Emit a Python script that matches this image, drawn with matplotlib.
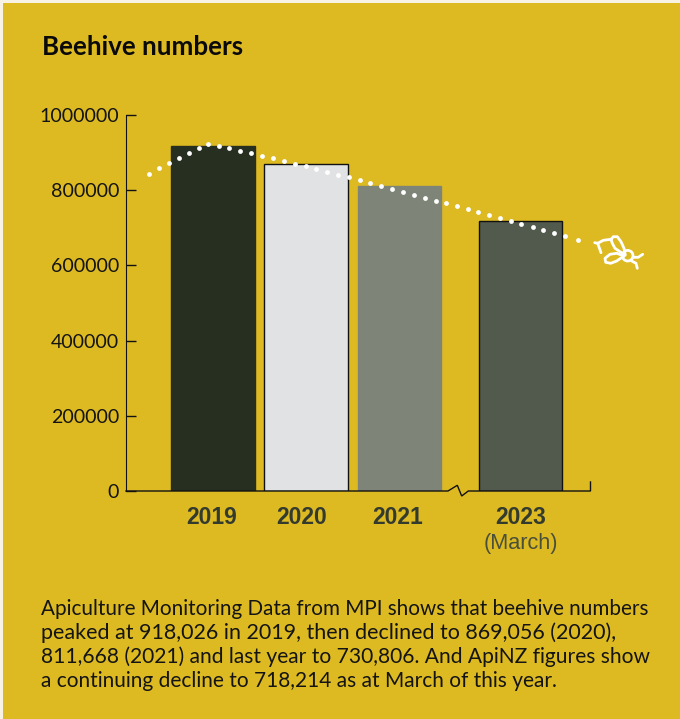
import matplotlib
matplotlib.use("Agg")
import matplotlib.pyplot as plt
from matplotlib.patches import Rectangle

years = ["2019", "2020", "2021", "2023"]
hives = [918026, 869056, 811668, 718214]
year_pos = [0, 0.995, 1.995, 3.29]
label_pos = [-0.02, 0.95, 1.97, 3.29]
bar_colors = ["#262F20", "#E1E2E4", "#7E8478", "#525A4D"]
edge_colors = ["#262F20", "#111111", "#7E8478", "#111111"]
y_ticks = [0, 200000, 400000, 600000, 800000, 1000000]

# flight path of the bee, in chart units
flight_x = [-0.684, -0.581, -0.474, -0.364, -0.257, -0.150, -0.050, 0.061, 0.174,
            0.292, 0.410, 0.524, 0.642, 0.759, 0.874, 0.991, 1.105, 1.219, 1.337,
            1.455, 1.569, 1.682, 1.800, 1.914, 2.032, 2.147, 2.264, 2.378, 2.492,
            2.606, 2.724, 2.837, 2.952, 3.070, 3.184, 3.297, 3.415, 3.529, 3.644,
            3.762, 3.900]
flight_y = [843900, 858200, 871500, 884800, 898100, 911400, 923600, 918400, 911400,
            905000, 898100, 891800, 884800, 877700, 870500, 863600, 855600, 848400,
            841200, 834300, 826300, 819100, 811200, 803200, 795200, 788200, 780100,
            772100, 765200, 757200, 749200, 741200, 733300, 725300, 717300, 709300,
            701300, 693400, 685400, 677400, 668400]

body_lines = [
    "Apiculture Monitoring Data from MPI shows that beehive numbers",
    "peaked at 918,026 in 2019, then declined to 869,056 (2020),",
    "811,668 (2021) and last year to 730,806. And ApiNZ figures show",
    "a continuing decline to 718,214 as at March of this year.",
]
body_sizes = [14.85, 15.5, 15.1, 15.05]

W, H = 680, 719
YELLOW = "#DDBA22"

plt.rcParams["font.family"] = ["Lato", "DejaVu Sans"]

fig = plt.figure(figsize=(W / 100, H / 100), dpi=100, facecolor="#F8F2E4")

# full page layer in pixel units, for the panel, text and decorations
page = fig.add_axes([0, 0, 1, 1], zorder=0)
page.set_xlim(0, W)
page.set_ylim(H, 0)
page.axis("off")
page.add_patch(Rectangle((3, 3), W, H, facecolor=YELLOW, edgecolor="none"))

page.text(42, 47, "Beehive numbers", fontsize=18.6, fontweight="bold",
          color="#0A0A0A", va="center", ha="left")
for i, line in enumerate(body_lines):
    page.text(41, 615 + i * 24, line, fontsize=body_sizes[i], color="#141414", va="baseline")

# main chart
ax = fig.add_axes([126 / W, 1 - 491 / H, 465 / W, 376 / H], zorder=1)
ax.patch.set_visible(False)
ax.bar(year_pos, hives, width=0.89, color=bar_colors, edgecolor=edge_colors, linewidth=1)
ax.set_xlim(-0.93, 4.04)
ax.set_ylim(0, 1000000)
ax.set_yticks(y_ticks)
ax.set_yticklabels([str(t) for t in y_ticks], fontsize=14.1, color="#141414")
ax.tick_params(axis="y", direction="in", length=7, width=1, pad=5, color="#111111")
for side in ["top", "right", "bottom"]:
    ax.spines[side].set_visible(False)
ax.spines["left"].set_color("#111111")

ax.set_xticks(label_pos)
ax.set_xticklabels(years, fontsize=16.5, fontweight="bold", color="#333A2E",
                   family=["Liberation Sans"])
ax.tick_params(axis="x", length=0, pad=10.5)

ax.scatter(flight_x, flight_y, s=12, color="white", linewidths=0, clip_on=False, zorder=5)

page.text(521, 543, "(March)", fontsize=15.6, color="#4A4F3A", ha="center", va="center",
          family=["Liberation Sans"])

# baseline with the break before 2023
top = fig.add_axes([0, 0, 1, 1], zorder=2)
top.set_xlim(0, W)
top.set_ylim(H, 0)
top.axis("off")
top.plot([126, 448, 457.3, 461.7, 468.3, 479, 590.5, 590.5],
         [491, 491, 485.3, 496, 491, 491, 491, 482],
         color="#111111", lw=1, solid_joinstyle="miter")

# bee outline, one polyline per stroke
bee_strokes = [
    [(594.7, 242.7), (597.7, 243.3)],
    [(601, 252.7), (597.7, 243.3), (603.3, 240.3), (611, 239.3)],
    [(611, 239.3), (613.3, 236.7), (617.3, 236.7), (621, 241.7), (624, 248.3),
     (625.3, 255), (620, 251.7), (615, 248.3), (612.3, 243.3), (611, 239.3)],
    [(624, 256), (616.7, 253.3), (610, 254.3), (605, 258.3), (605.7, 262.3),
     (610.7, 263.3), (616.7, 261), (624, 256)],
    [(633.3, 257.3), (638.3, 257.3), (642.7, 254.3)],
    [(631.7, 261), (636, 263.3), (637.3, 268.3)],
]
for stroke in bee_strokes:
    xs, ys = zip(*stroke)
    top.plot(xs, ys, color="white", lw=2, solid_capstyle="round", solid_joinstyle="round")
top.add_patch(plt.Circle((627.7, 255.7), 5.3, facecolor="none", edgecolor="white", lw=2))

fig.savefig("out.png", dpi=100, facecolor=fig.get_facecolor())
